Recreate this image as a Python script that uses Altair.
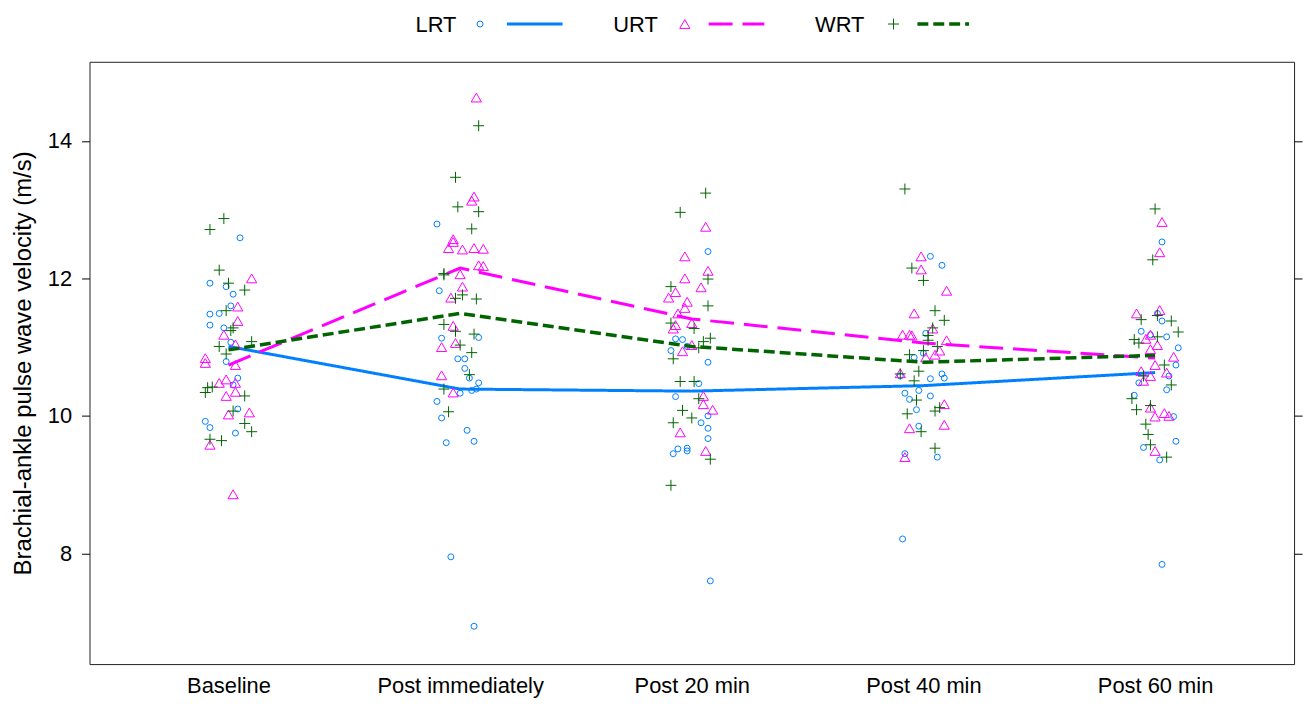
import json
import altair as alt
import pandas as pd

TIMES = ["Baseline", "Post immediately", "Post 20 min", "Post 40 min", "Post 60 min"]
GROUPS = ["LRT", "URT", "WRT"]
COLORS = {"LRT": "#0080ff", "URT": "#ff00ff", "WRT": "#006400"}

# (jitter offset, value) pairs per group and time point
LRT_T1 = [(0.05,12.59),(-0.08,11.93),(-0.01,11.88),(0.02,11.77),(0.01,11.60),(-0.08,11.48),(-0.04,11.49),(-0.08,11.32),(-0.02,11.28),(0.01,11.07),(-0.01,10.79),(0.04,10.55),(0.02,10.45),(0.04,10.10),(-0.10,9.92),(-0.08,9.83),(0.03,9.75)]
LRT_T2 = [(-0.10,12.79),(-0.09,11.82),(-0.08,11.13),(0.08,11.14),(-0.01,10.83),(0.02,10.83),(0.02,10.69),(0.04,10.55),(0.08,10.48),(0.05,10.37),(0.07,10.39),(0.0,10.33),(-0.10,10.21),(-0.08,9.97),(0.03,9.79),(-0.06,9.61),(0.06,9.63),(-0.04,7.95),(0.06,6.94)]
LRT_T3 = [(0.07,12.39),(0.07,10.78),(-0.07,11.12),(-0.04,11.11),(-0.09,10.95),(-0.02,11.01),(0.03,10.47),(-0.07,10.28),(0.07,10.0),(0.04,9.90),(0.07,9.82),(0.07,9.67),(-0.08,9.45),(-0.06,9.52),(-0.02,9.53),(-0.02,9.49),(0.08,7.60)]
LRT_T4 = [(0.03,12.32),(0.08,12.19),(0.01,11.20),(0.0,10.91),(-0.04,10.85),(-0.10,10.58),(0.08,10.61),(0.09,10.55),(0.03,10.54),(-0.02,10.37),(-0.08,10.33),(0.03,10.29),(-0.06,10.24),(-0.03,10.09),(-0.02,9.85),(-0.08,9.45),(0.06,9.40),(-0.09,8.21)]
LRT_T5 = [(0.03,12.53),(0.01,11.49),(0.03,11.38),(-0.06,11.23),(0.05,11.15),(-0.02,11.18),(0.10,10.99),(0.09,10.74),(0.06,10.58),(0.05,10.38),(-0.07,10.48),(-0.09,10.30),(0.08,9.99),(0.09,9.63),(-0.05,9.54),(0.02,9.36),(0.03,7.84)]

URT_T1 = [(0.10,12.00),(0.04,11.59),(0.04,11.38),(-0.02,11.18),(0.03,11.04),(-0.10,10.84),(-0.10,10.77),(0.03,10.74),(-0.01,10.53),(-0.04,10.48),(0.03,10.48),(0.03,10.35),(-0.01,10.29),(0.09,10.05),(0.0,10.02),(-0.08,9.58),(0.02,8.86)]
URT_T2 = [(0.07,14.63),(0.06,13.19),(0.05,13.13),(-0.03,12.57),(-0.03,12.53),(-0.05,12.44),(0.01,12.42),(0.06,12.44),(0.10,12.43),(0.08,12.19),(0.10,12.18),(0.0,12.06),(0.01,11.88),(-0.04,11.72),(-0.03,11.31),(-0.08,11.00),(-0.02,11.06),(-0.08,10.59),(-0.03,10.34)]
URT_T3 = [(0.06,12.75),(-0.03,12.32),(0.07,12.11),(-0.03,12.00),(0.04,11.87),(-0.07,11.80),(-0.10,11.72),(-0.02,11.66),(-0.03,11.57),(-0.06,11.49),(-0.07,11.32),(-0.08,11.27),(0.0,11.35),(-0.04,10.94),(0.0,11.03),(0.05,10.29),(0.05,10.17),(0.09,10.09),(-0.05,9.76),(0.06,9.49)]
URT_T4 = [(-0.01,12.32),(-0.01,12.13),(0.10,11.82),(-0.04,11.49),(-0.09,11.18),(-0.06,11.18),(-0.05,11.17),(0.04,11.27),(0.10,11.10),(0.07,10.95),(0.05,10.89),(0.01,10.85),(-0.10,10.62),(0.09,10.17),(-0.06,9.82),(0.09,9.87),(-0.08,9.40)]
URT_T5 = [(0.03,12.82),(0.02,12.38),(-0.08,11.49),(0.02,11.54),(-0.04,11.12),(-0.02,11.18),(0.01,11.03),(-0.02,10.97),(0.08,10.86),(0.0,10.74),(-0.06,10.65),(0.05,10.63),(-0.02,10.58),(-0.05,10.51),(-0.02,10.12),(0.0,9.99),(0.04,10.04),(0.06,10.00),(0.0,9.49)]

WRT_T1 = [(-0.02,12.87),(-0.08,12.71),(-0.04,12.12),(0.0,11.93),(0.07,11.83),(-0.01,11.53),(0.02,11.28),(0.01,11.24),(0.10,11.08),(-0.04,11.01),(-0.01,10.90),(-0.09,10.41),(-0.07,10.42),(-0.10,10.34),(0.07,10.29),(0.02,10.07),(0.07,9.89),(0.10,9.77),(-0.08,9.66),(-0.03,9.64)]
WRT_T2 = [(0.08,14.22),(-0.02,13.47),(-0.01,13.04),(0.08,12.97),(0.05,12.72),(-0.07,12.07),(-0.07,12.05),(0.01,11.76),(-0.02,11.71),(0.07,11.70),(-0.07,11.33),(-0.02,11.23),(0.06,11.19),(0.0,11.03),(0.05,10.92),(0.04,10.60),(-0.07,10.39),(-0.05,10.06)]
WRT_T3 = [(0.06,13.24),(-0.05,12.96),(0.07,11.99),(-0.09,11.88),(0.07,11.60),(-0.09,11.35),(0.01,11.27),(0.08,11.13),(0.05,11.08),(0.03,10.99),(-0.08,10.83),(-0.05,10.50),(0.01,10.50),(0.03,10.25),(-0.04,10.08),(0.0,9.97),(-0.08,9.90),(0.08,9.37),(-0.09,8.99)]
WRT_T4 = [(-0.08,13.30),(-0.05,12.15),(0.0,11.97),(0.05,11.53),(0.09,11.39),(0.04,11.28),(0.02,11.17),(0.02,11.10),(0.06,11.01),(0.0,10.95),(-0.06,10.89),(-0.02,10.65),(-0.10,10.61),(-0.04,10.51),(-0.03,10.23),(0.07,10.12),(0.05,10.07),(-0.07,10.03),(-0.01,9.77),(0.05,9.53)]
WRT_T5 = [(0.0,13.01),(-0.01,12.27),(-0.06,11.40),(0.01,11.46),(0.07,11.38),(0.10,11.22),(-0.09,11.11),(-0.07,11.06),(0.01,11.15),(0.04,10.74),(-0.05,10.58),(0.07,10.45),(-0.10,10.25),(-0.08,10.09),(-0.02,10.15),(-0.04,9.88),(-0.03,9.73),(-0.02,9.58),(0.05,9.40)]

LRT_MEAN = [11.01, 10.39, 10.36, 10.44, 10.63]
URT_MEAN = [10.74, 12.15, 11.41, 11.06, 10.84]
WRT_MEAN = [10.96, 11.49, 11.01, 10.78, 10.88]

POINTS = {
    "LRT": [LRT_T1, LRT_T2, LRT_T3, LRT_T4, LRT_T5],
    "URT": [URT_T1, URT_T2, URT_T3, URT_T4, URT_T5],
    "WRT": [WRT_T1, WRT_T2, WRT_T3, WRT_T4, WRT_T5],
}
MEANS = {"LRT": LRT_MEAN, "URT": URT_MEAN, "WRT": WRT_MEAN}

SHAPES = {"LRT": "circle", "URT": "triangle-up", "WRT": "M-1,0L1,0M0,-1L0,1"}
SIZES = {"LRT": 36, "URT": 105, "WRT": 121}
DASHES = {"LRT": [1, 0], "URT": [24, 10], "WRT": [11, 5]}
LWD = {"LRT": 3, "URT": 3, "WRT": 3.5}

FONT = "Liberation Sans"
FS = 22
TITLE_FS = 24

xs = alt.Scale(domain=[0.4, 5.6], nice=False, zero=False)
ys = alt.Scale(domain=[6.39, 15.15], nice=False, zero=False)

label_expr = json.dumps(TIMES) + "[datum.value - 1]"
x_axis = alt.Axis(values=[1, 2, 3, 4, 5], labelExpr=label_expr, title=None, ticks=False,
                  domain=False, grid=False, labelPadding=12, labelFontSize=FS, labelFont=FONT,
                  labelColor="black", labelOverlap=False, orient="bottom")
y_left = alt.Axis(values=[8, 10, 12, 14], title="Brachial-ankle pulse wave velocity (m/s)",
                  orient="left", domain=False, grid=False, tickSize=8, tickColor="black",
                  labelPadding=10, labelFontSize=FS, labelFont=FONT, labelColor="black",
                  titleFontSize=TITLE_FS, titleFont=FONT, titleFontWeight="normal", titleColor="black",
                  titleX=-59, titleY=303, titleAngle=270, titleAlign="center",
                  titleBaseline="alphabetic")
y_right = alt.Axis(values=[8, 10, 12, 14], title=None, orient="right", domain=False, grid=False,
                   tickSize=8, tickColor="black", labels=False)

layers = []
first_pts = True
first_line = True
for g in GROUPS:
    rows = []
    for i, lst in enumerate(POINTS[g]):
        for off, v in lst:
            rows.append({"x": i + 1 + off, "value": v})
    dfp = pd.DataFrame(rows)
    pts = alt.Chart(dfp).mark_point(
        shape=SHAPES[g], size=SIZES[g], filled=False, color=COLORS[g], strokeWidth=1, opacity=1
    ).encode(
        x=alt.X("x:Q", scale=xs, axis=x_axis if first_pts else None),
        y=alt.Y("value:Q", scale=ys, axis=y_left if first_pts else None),
    )
    first_pts = False
    dfm = pd.DataFrame({"x": [1, 2, 3, 4, 5], "value": MEANS[g]})
    ln = alt.Chart(dfm).mark_line(
        color=COLORS[g], strokeWidth=LWD[g], strokeDash=DASHES[g]
    ).encode(
        x=alt.X("x:Q", scale=xs, axis=None),
        y=alt.Y("value:Q", scale=ys, axis=y_right if first_line else None),
    )
    first_line = False
    layers += [pts, ln]

# legend (key above the panel): label, symbol, line
LEG_TEXT_X = {"LRT": 328, "URT": 527, "WRT": 730}
LEG_SYM_X = {"LRT": 393, "URT": 599, "WRT": 809}
LEG_LINE_X = {"LRT": (420, 476), "URT": (623, 679), "WRT": (833, 885)}
one = pd.DataFrame({"a": [0]})
for g in GROUPS:
    layers.append(alt.Chart(one).mark_text(
        text=g, align="left", baseline="middle", font=FONT, fontSize=FS, color="black"
    ).encode(x=alt.value(LEG_TEXT_X[g]), y=alt.value(-37)))
    layers.append(alt.Chart(one).mark_point(
        shape=SHAPES[g], size=SIZES[g], filled=False, color=COLORS[g], strokeWidth=1, opacity=1
    ).encode(x=alt.value(LEG_SYM_X[g]), y=alt.value(-38)))
    x1, x2 = LEG_LINE_X[g]
    layers.append(alt.Chart(one).mark_rule(
        color=COLORS[g], strokeWidth=LWD[g], strokeDash=DASHES[g]
    ).encode(x=alt.value(x1), x2=alt.value(x2), y=alt.value(-38)))

chart = alt.layer(*layers).resolve_axis(x="independent", y="independent").properties(
    width=1212, height=606,
    autosize=alt.AutoSizeParams(type="none"),
    padding={"left": 82, "top": 52, "right": 12, "bottom": 33},
).configure_view(stroke="#222", strokeWidth=1)

chart.save("out.html", embed_options={"renderer": "svg", "actions": False})
